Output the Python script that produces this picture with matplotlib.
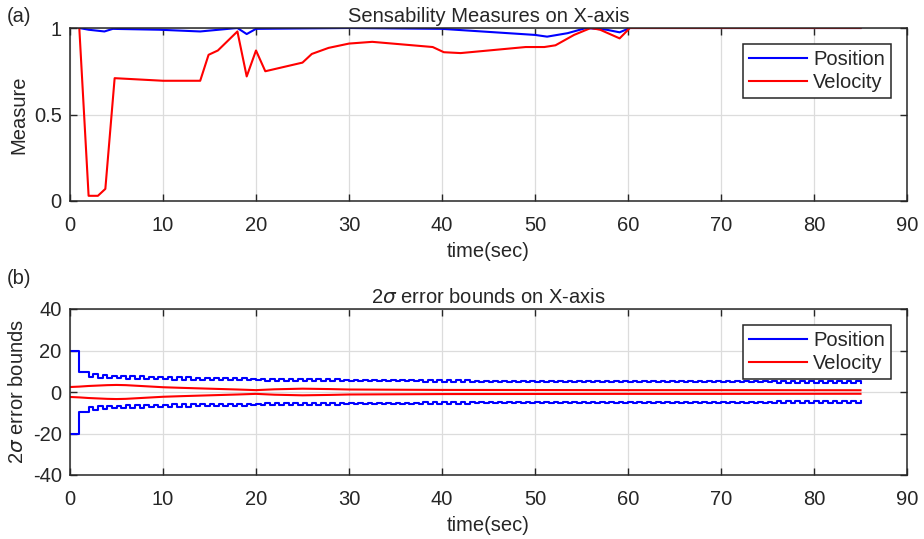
import numpy as np
import matplotlib
matplotlib.use("Agg")
import matplotlib.pyplot as plt

plt.rcParams['font.family'] = ['Liberation Sans', 'DejaVu Sans']
plt.rcParams['mathtext.fontset'] = 'dejavusans'
plt.rcParams['axes.unicode_minus'] = False

# ---- (a) sensability measures ----
sens_t_vel = [1, 2, 3, 3.8, 4.8, 10, 14, 14.9, 15.9, 18, 19, 20, 21, 25, 26, 27.8, 30, 32.5,
              39, 40.2, 42, 45, 49, 51, 52.2, 54.2, 56, 57, 59.1, 60.2, 85]
sens_vel = [1.0, 0.03, 0.03, 0.07, 0.71, 0.695, 0.695, 0.845, 0.87, 0.98, 0.72, 0.87, 0.75, 0.80,
            0.85, 0.885, 0.91, 0.92, 0.89, 0.86, 0.855, 0.87, 0.89, 0.89, 0.90, 0.96, 1.0, 0.99,
            0.94, 1.0, 1.0]

sens_t_pos = [1, 2, 3.7, 4.6, 9.6, 14, 16, 18, 19, 20, 30, 40, 50, 51.3, 53.5, 55.5, 57.7,
              59.1, 60.2, 85]
sens_pos = [1.0, 0.99, 0.98, 0.995, 0.99, 0.98, 0.99, 1.0, 0.965, 0.995, 1.0, 0.995, 0.96, 0.95,
            0.97, 1.0, 0.99, 0.975, 1.0, 1.0]

# ---- (b) 2 sigma error bounds ----
# position bound, value after update (k) and after prediction (k + 0.5), k = 0..84
pos_lo = [20.0, 9.6, 7.4, 6.9, 6.7, 6.6, 6.5, 6.4, 6.3, 6.2,
          6.1, 6.0, 6.0, 5.9, 5.9, 5.8, 5.8, 5.7, 5.7, 5.6,
          5.6, 5.5, 5.5, 5.5, 5.4, 5.4, 5.4, 5.3, 5.3, 5.3,
          5.2, 5.2, 5.2, 5.2, 5.1, 5.1, 5.1, 5.1, 5.0, 5.0,
          5.0, 5.0, 5.0, 4.9, 4.9, 4.9, 4.9, 4.9, 4.9, 4.8,
          4.8, 4.8, 4.8, 4.8, 4.8, 4.8, 4.7, 4.7, 4.7, 4.7,
          4.7, 4.7, 4.7, 4.7, 4.7, 4.6, 4.6, 4.6, 4.6, 4.6,
          4.6, 4.6, 4.6, 4.6, 4.6, 4.6, 4.5, 4.5, 4.5, 4.5,
          4.5, 4.5, 4.5, 4.5, 4.5]
pos_hi = [20.0, 9.6, 8.6, 8.1, 7.9, 7.7, 7.6, 7.5, 7.4, 7.3,
          7.2, 7.1, 7.0, 6.9, 6.9, 6.8, 6.7, 6.7, 6.6, 6.5,
          6.5, 6.4, 6.4, 6.3, 6.3, 6.2, 6.2, 6.1, 6.1, 6.0,
          6.0, 5.9, 5.9, 5.9, 5.8, 5.8, 5.7, 5.7, 5.7, 5.6,
          5.6, 5.6, 5.6, 5.5, 5.5, 5.5, 5.5, 5.5, 5.5, 5.4,
          5.4, 5.4, 5.4, 5.4, 5.4, 5.4, 5.3, 5.3, 5.3, 5.3,
          5.3, 5.3, 5.3, 5.3, 5.3, 5.2, 5.2, 5.2, 5.2, 5.2,
          5.2, 5.2, 5.2, 5.2, 5.2, 5.2, 5.1, 5.1, 5.1, 5.1,
          5.1, 5.1, 5.1, 5.1, 5.1]

vel_t = [0, 1, 2, 3, 4, 5, 6, 8, 10, 12, 15, 18, 20, 22, 25, 28, 30, 35, 40, 50, 60, 70, 85]
vel_b = [2.4, 2.6, 2.9, 3.1, 3.3, 3.4, 3.3, 2.8, 2.3, 2.0, 1.6, 1.2, 0.9, 1.3, 1.6, 1.4, 1.2,
         1.1, 1.0, 0.95, 0.9, 0.9, 0.85]

BLUE = '#0000ff'
RED = '#ff0000'
DARK = '#262626'
FS = 14.5

fig = plt.figure(figsize=(9.24, 5.39), dpi=100)
ax1 = fig.add_axes([70 / 924, 1 - 201 / 539, 837 / 924, 173 / 539])
ax2 = fig.add_axes([70 / 924, 1 - 475 / 539, 837 / 924, 166 / 539])


def style(ax):
    ax.set_xlim(0, 90)
    ax.set_xticks(range(0, 91, 10))
    ax.grid(True, color='#dcdcdc', lw=0.9)
    ax.set_axisbelow(True)
    ax.tick_params(direction='in', top=True, right=True, length=5, width=1,
                   labelsize=FS, colors=DARK)
    ax.tick_params(axis='x', pad=11)
    ax.tick_params(axis='y', pad=6)
    for s in ax.spines.values():
        s.set_color(DARK)
        s.set_linewidth(1.1)


ax1.plot(sens_t_pos, sens_pos, color=BLUE, lw=1.5, label='Position')
ax1.plot(sens_t_vel, sens_vel, color=RED, lw=1.5, label='Velocity')
style(ax1)
ax1.set_ylim(0, 1)
ax1.set_yticks([0, 0.5, 1])
ax1.set_yticklabels(['0', '0.5', '1'])
ax1.set_xlabel('time(sec)', fontsize=FS, color=DARK, labelpad=5)
ax1.set_ylabel('Measure', fontsize=FS, color=DARK, labelpad=4)
ax1.set_title('Sensability Measures on X-axis', fontsize=FS, color=DARK, pad=4)

# step series built from the read values
ts = []
ps = []
for k in range(len(pos_lo)):
    ts += [k, k + 0.5]
    ps += [pos_lo[k], pos_hi[k]]
ts.append(85)
ps.append(pos_lo[-1])
ts = np.array(ts)
ps = np.array(ps)

ax2.step(ts, ps, where='post', color=BLUE, lw=1.5, label='Position')
ax2.step(ts, -ps, where='post', color=BLUE, lw=1.5)
ax2.plot(vel_t, vel_b, color=RED, lw=1.5, label='Velocity')
ax2.plot(vel_t, -np.array(vel_b), color=RED, lw=1.5)
style(ax2)
ax2.set_ylim(-40, 40)
ax2.set_yticks([-40, -20, 0, 20, 40])
ax2.set_xlabel('time(sec)', fontsize=FS, color=DARK, labelpad=5)
ax2.set_ylabel(r'2$\sigma$ error bounds', fontsize=FS, color=DARK, labelpad=4)
ax2.set_title(r'2$\sigma$ error bounds on X-axis', fontsize=FS, color=DARK, pad=4)

for ax in (ax1, ax2):
    leg = ax.legend(loc='upper right', fontsize=FS, fancybox=False, framealpha=1,
                    edgecolor=DARK, handlelength=2.9, borderpad=0.3,
                    labelspacing=0.2, handletextpad=0.3, borderaxespad=0.8)
    leg.get_frame().set_linewidth(1.1)
    for t in leg.get_texts():
        t.set_color(DARK)

fig.text(7 / 924, 1 - 17 / 539, '(a)', fontsize=FS, color=DARK, va='center')
fig.text(7 / 924, 1 - 278 / 539, '(b)', fontsize=FS, color=DARK, va='center')

fig.savefig('out.png', dpi=100)
